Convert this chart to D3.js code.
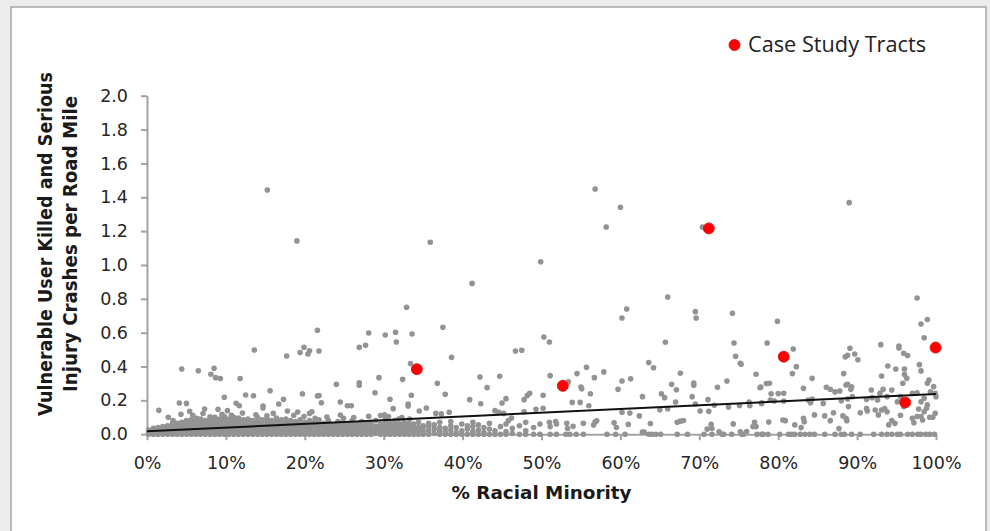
<!DOCTYPE html>
<html><head><meta charset="utf-8">
<script src="https://cdn.jsdelivr.net/npm/d3@7"></script>
<style>
html,body{margin:0;padding:0;background:#ececec;}
svg{display:block;}
</style>
</head><body>
<svg id="chart" width="990" height="531"></svg>
<script>
// Axis ticks
const xTicks = [0, 0.1, 0.2, 0.3, 0.4, 0.5, 0.6, 0.7, 0.8, 0.9, 1.0];
const yTicks = [0, 0.2, 0.4, 0.6, 0.8, 1.0, 1.2, 1.4, 1.6, 1.8, 2.0];

// Highlighted case study tracts: [share minority, crashes per road mile]
const caseStudyTracts = [[0.342, 0.384], [0.527, 0.286], [0.712, 1.216], [0.807, 0.458], [0.961, 0.188], [0.9995, 0.512]];

// Linear trend (end points at 0% and 100%)
const trendLine = [[0, 0.017], [1, 0.237]];

// Tracts with high rates
const tractsHigh = [
  [0.1525,1.443],[0.190,1.142],[0.359,1.134],[0.499,1.019],[0.412,0.891],[0.329,0.750],
  [0.216,0.614],[0.281,0.598],[0.302,0.586],[0.315,0.602],[0.336,0.592],[0.375,0.632],
  [0.568,1.449],[0.600,1.341],[0.582,1.224],[0.704,1.224],[0.890,1.368],
  [0.660,0.811],[0.608,0.740],[0.602,0.687],[0.695,0.724],[0.696,0.687],[0.742,0.714],[0.799,0.667],
  [0.976,0.805],[0.989,0.677],[0.981,0.651],[0.985,0.570],
  [0.503,0.574],[0.510,0.545],[0.269,0.513],[0.277,0.525],[0.316,0.545],
  [0.657,0.543],[0.744,0.539],[0.786,0.539]
];

// Tracts with moderate rates, 0% to 55% minority
const tractsMidLeft = [
  [0.136,0.497],[0.177,0.462],[0.194,0.482],[0.199,0.514],[0.204,0.474],[0.206,0.493],[0.218,0.492],
  [0.044,0.385],[0.065,0.375],[0.081,0.354],[0.085,0.389],[0.087,0.334],[0.093,0.329],[0.118,0.329],[0.240,0.295],
  [0.098,0.218],[0.125,0.232],[0.135,0.227],[0.156,0.257],[0.197,0.238],[0.216,0.226],[0.218,0.228],[0.221,0.186],[0.245,0.190],[0.254,0.168],
  [0.041,0.184],[0.050,0.182],[0.015,0.141],[0.027,0.100],[0.043,0.118],[0.054,0.135],[0.073,0.149],[0.090,0.147],[0.102,0.139],
  [0.113,0.183],[0.117,0.168],[0.147,0.167],[0.147,0.155],[0.160,0.123],[0.167,0.178],[0.173,0.206],[0.178,0.137],[0.191,0.131],
  [0.206,0.123],[0.209,0.133],[0.213,0.094],[0.245,0.113],[0.249,0.094],[0.033,0.080],[0.063,0.094],[0.080,0.103],
  [0.058,0.112],[0.071,0.122],[0.095,0.118],[0.107,0.112],[0.121,0.125],[0.138,0.115],[0.152,0.108],[0.186,0.112],
  [0.199,0.104],[0.228,0.102],[0.262,0.098],[0.281,0.106],
  [0.334,0.417],[0.467,0.492],[0.475,0.496],[0.386,0.454],
  [0.269,0.304],[0.269,0.289],[0.294,0.334],[0.324,0.324],[0.368,0.301],[0.422,0.338],[0.447,0.342],[0.431,0.275],
  [0.378,0.236],[0.335,0.230],[0.289,0.245],[0.308,0.206],[0.409,0.204],[0.423,0.180],[0.450,0.184],[0.455,0.210],
  [0.478,0.204],[0.482,0.228],[0.485,0.242],[0.502,0.230],
  [0.259,0.168],[0.331,0.178],[0.331,0.167],[0.312,0.151],[0.345,0.137],[0.354,0.155],[0.366,0.123],[0.373,0.120],
  [0.383,0.130],[0.441,0.139],[0.446,0.130],[0.452,0.123],[0.478,0.133],[0.493,0.147],[0.502,0.153],
  [0.458,0.080],[0.462,0.095],[0.510,0.070],[0.518,0.075],
  [0.296,0.110],[0.301,0.115],[0.306,0.105],[0.319,0.090],[0.323,0.098],[0.333,0.090]
];

// Tracts with moderate rates, 50% to 100% minority
const tractsMidRight = [
  [0.511,0.346],[0.746,0.460],[0.752,0.419],[0.753,0.413],[0.636,0.423],[0.642,0.393],[0.557,0.395],[0.545,0.358],
  [0.579,0.368],[0.567,0.334],[0.534,0.310],[0.602,0.314],[0.613,0.328],[0.676,0.360],[0.693,0.302],[0.693,0.289],
  [0.665,0.295],[0.671,0.263],[0.735,0.314],[0.772,0.354],[0.785,0.300],[0.550,0.279],[0.551,0.268],[0.562,0.239],
  [0.597,0.265],[0.628,0.222],[0.652,0.239],[0.656,0.216],[0.670,0.190],[0.691,0.222],[0.695,0.178],[0.711,0.204],
  [0.723,0.277],[0.719,0.171],[0.763,0.190],[0.779,0.180],[0.778,0.279],[0.539,0.188],[0.549,0.188],[0.560,0.168],
  [0.602,0.129],[0.612,0.125],[0.624,0.108],[0.650,0.145],[0.660,0.151],[0.701,0.137],[0.712,0.135],[0.737,0.160],
  [0.751,0.170],[0.764,0.168],
  [0.819,0.503],[0.823,0.399],[0.818,0.358],[0.891,0.508],[0.888,0.466],[0.885,0.457],[0.897,0.474],[0.901,0.440],
  [0.930,0.529],[0.953,0.521],[0.953,0.510],[0.959,0.478],[0.964,0.465],[0.939,0.403],[0.949,0.385],[0.960,0.385],
  [0.960,0.352],[0.979,0.411],[0.981,0.374],[0.931,0.344],[0.883,0.358],[0.843,0.330],[0.789,0.301],[0.777,0.275],
  [0.832,0.271],[0.861,0.277],[0.866,0.266],[0.872,0.250],[0.878,0.255],[0.886,0.290],[0.888,0.295],[0.893,0.280],
  [0.791,0.239],[0.800,0.240],[0.807,0.242],
  [0.779,0.186],[0.790,0.202],[0.795,0.196],[0.807,0.196],[0.838,0.202],[0.843,0.208],[0.841,0.186],[0.857,0.182],
  [0.880,0.198],[0.888,0.208],[0.894,0.222],[0.892,0.265],[0.912,0.206],[0.918,0.261],[0.919,0.216],[0.926,0.202],
  [0.929,0.241],[0.933,0.265],[0.938,0.222],[0.944,0.261],[0.951,0.192],[0.955,0.222],[0.958,0.301],[0.963,0.330],
  [0.970,0.241],[0.976,0.245],[0.981,0.192],[0.985,0.212],[0.989,0.301],[0.991,0.320],[0.993,0.251],[0.997,0.281],
  [0.999,0.241],[1.000,0.222]
];

// Tracts with low rates, 50% to 100% minority
const tractsLowRight = [
  [0.511,0.045],[0.519,0.060],[0.532,0.065],[0.533,0.034],[0.540,0.047],[0.553,0.065],[0.566,0.054],[0.568,0.073],
  [0.570,0.079],[0.592,0.067],[0.595,0.040],[0.610,0.058],[0.628,0.012],[0.630,0.012],[0.638,0.063],[0.672,0.071],
  [0.676,0.077],[0.680,0.081],[0.710,0.030],[0.715,0.058],[0.716,0.034],[0.725,0.014],[0.743,0.061],[0.752,0.014],
  [0.760,0.016],[0.768,0.045],[0.770,0.071],[0.772,0.045],
  [0.788,0.072],[0.806,0.084],[0.809,0.080],[0.821,0.055],[0.829,0.039],[0.832,0.094],[0.833,0.074],[0.846,0.114],
  [0.859,0.108],[0.870,0.127],[0.866,0.080],[0.877,0.033],[0.882,0.108],[0.886,0.094],[0.887,0.080],[0.889,0.163],
  [0.904,0.127],[0.912,0.151],[0.913,0.137],[0.923,0.143],[0.927,0.114],[0.931,0.143],[0.935,0.151],[0.938,0.133],
  [0.940,0.055],[0.944,0.080],[0.948,0.064],[0.955,0.112],[0.959,0.163],[0.970,0.094],[0.972,0.068],[0.976,0.104],
  [0.978,0.149],[0.981,0.104],[0.983,0.084],[0.985,0.133],[0.988,0.153],[0.989,0.173],[0.992,0.100],[0.996,0.100],
  [0.999,0.124]
];

// Tracts with no recorded crashes, 50% to 100% minority
const zeroRateTracts = [
  0.511,0.519,0.531,0.536,0.544,0.553,0.583,0.594,0.606,0.636,0.640,0.645,0.651,0.672,0.685,0.706,0.716,0.729,
  0.731,0.741,0.754,0.756,0.773,0.781,0.779,0.787,0.802,0.813,0.817,0.821,0.828,0.834,0.840,0.846,0.859,0.872,
  0.880,0.884,0.893,0.904,0.921,0.931,0.938,0.944,0.951,0.955,0.964,0.970,0.977,0.981,0.987,0.992,0.998
];

// Dense band of low-rate tracts, 0% to 50% minority: [share minority, [rates]]
const denseBand = [
  [0.002,[0,0.012,0.025]],[0.008,[0,0.008,0.020,0.035]],[0.014,[0,0.015,0.030,0.040]],[0.020,[0,0.010,0.025,0.045]],
  [0.026,[0,0.012,0.030,0.050]],[0.032,[0,0.020,0.040,0.060]],[0.038,[0,0.010,0.030,0.050,0.065]],
  [0.044,[0,0.015,0.035,0.055,0.070]],[0.050,[0,0.020,0.040,0.060,0.080]],[0.056,[0,0.010,0.030,0.050,0.070,0.085]],
  [0.062,[0,0.020,0.040,0.060,0.075]],[0.068,[0,0.015,0.035,0.055,0.075,0.090]],[0.074,[0,0.020,0.040,0.060,0.080]],
  [0.080,[0,0.010,0.030,0.050,0.070,0.095]],[0.086,[0,0.020,0.040,0.060,0.080,0.100]],[0.092,[0,0.015,0.035,0.055,0.075,0.090]],
  [0.098,[0,0.020,0.045,0.065,0.085,0.105]],[0.104,[0,0.010,0.030,0.050,0.070,0.090]],[0.110,[0,0.020,0.040,0.060,0.080,0.100]],
  [0.116,[0,0.015,0.035,0.055,0.075,0.095]],[0.122,[0,0.020,0.040,0.060,0.085]],[0.128,[0,0.010,0.030,0.050,0.070,0.090]],
  [0.134,[0,0.020,0.040,0.065,0.080]],[0.140,[0,0.015,0.035,0.055,0.075,0.100]],[0.146,[0,0.020,0.045,0.060,0.085]],
  [0.152,[0,0.010,0.030,0.050,0.070,0.090]],[0.158,[0,0.020,0.040,0.060,0.080]],[0.164,[0,0.015,0.035,0.055,0.075,0.095]],
  [0.170,[0,0.020,0.040,0.065,0.085]],[0.176,[0,0.010,0.030,0.050,0.070,0.090]],[0.182,[0,0.020,0.040,0.060,0.080]],
  [0.188,[0,0.015,0.035,0.055,0.075]],[0.194,[0,0.020,0.045,0.065,0.085]],[0.200,[0,0.010,0.030,0.050,0.070]],
  [0.206,[0,0.020,0.040,0.060,0.080]],[0.212,[0,0.015,0.035,0.055,0.070]],[0.218,[0,0.020,0.040,0.060,0.085]],
  [0.224,[0,0.010,0.030,0.050,0.065]],[0.230,[0,0.020,0.040,0.060,0.080]],[0.236,[0,0.015,0.035,0.055]],
  [0.242,[0,0.020,0.040,0.065,0.075]],[0.248,[0,0.010,0.030,0.050,0.070]],[0.254,[0,0.020,0.045,0.060]],
  [0.260,[0,0.015,0.035,0.055,0.080]],[0.266,[0,0.020,0.040,0.060]],[0.272,[0,0.010,0.030,0.050,0.075]],
  [0.278,[0,0.020,0.040,0.065]],[0.284,[0,0.015,0.035,0.055,0.070]],[0.290,[0.005,0.025,0.045,0.080]],
  [0.296,[0,0.020,0.040,0.060]],[0.302,[0,0.010,0.030,0.050,0.070,0.090]],[0.308,[0,0.020,0.045,0.065]],
  [0.314,[0,0.015,0.035,0.055,0.080]],[0.320,[0,0.020,0.040,0.060]],[0.326,[0,0.010,0.030,0.050,0.070]],
  [0.332,[0,0.025,0.045,0.065]],[0.338,[0,0.015,0.035,0.060]],[0.344,[0,0.020,0.040,0.070]],
  [0.350,[0,0.010,0.030,0.050]],[0.357,[0,0.020,0.045,0.065]],[0.364,[0.005,0.030,0.055]],
  [0.371,[0,0.020,0.040,0.070]],[0.378,[0,0.015,0.035]],[0.385,[0,0.025,0.050,0.075]],[0.392,[0,0.010,0.040]],
  [0.399,[0,0.020,0.060]],[0.406,[0,0.030,0.050]],[0.413,[0,0.015,0.045,0.070]],[0.420,[0,0.025,0.055]],
  [0.427,[0,0.010,0.040]],[0.434,[0,0.030,0.065]],[0.441,[0,0.020]],[0.448,[0,0.045]],[0.455,[0,0.015,0.060]],
  [0.463,[0.005,0.035]],[0.472,[0,0.050]],[0.480,[0,0.020,0.070]],[0.490,[0,0.040]],[0.498,[0,0.060]]
];

const grayTracts = [
  ...denseBand.flatMap(([m, rates]) => rates.map(r => [m, r])),
  ...zeroRateTracts.map(m => [m, 0]),
  ...tractsLowRight, ...tractsMidLeft, ...tractsMidRight, ...tractsHigh
];

const svg = d3.select('#chart');

// Chart frame
svg.append('rect').attr('x', 11).attr('y', 7).attr('width', 975).attr('height', 540)
  .attr('fill', '#ffffff').attr('stroke', '#a6a6a6').attr('stroke-width', 1.5);

const x = d3.scaleLinear().domain([0, 1]).range([147, 936]);
const y = d3.scaleLinear().domain([0, 2]).range([434.2, 95.7]);

const axisColor = '#a3a3a3';
const tickFont = '"DejaVu Sans", Verdana, sans-serif';

// Y axis
const gy = svg.append('g').attr('transform', `translate(${x(0)},0)`)
  .call(d3.axisLeft(y).tickValues(yTicks).tickFormat(d3.format('.1f')).tickSize(6).tickSizeOuter(0).tickPadding(13));
gy.select('.domain').attr('stroke', axisColor).attr('stroke-width', 2);
gy.selectAll('.tick line').attr('stroke', axisColor).attr('stroke-width', 2);
gy.selectAll('.tick text').attr('fill', '#262626').style('font-family', tickFont).style('font-size', '17.5px');

// X axis
const gx = svg.append('g').attr('transform', `translate(0,${y(0)})`)
  .call(d3.axisBottom(x).tickValues(xTicks).tickFormat(d3.format('.0%')).tickSize(6).tickSizeOuter(0).tickPadding(16.5));
gx.select('.domain').attr('stroke', axisColor).attr('stroke-width', 2);
gx.selectAll('.tick line').attr('stroke', axisColor).attr('stroke-width', 2);
gx.selectAll('.tick text').attr('fill', '#262626').style('font-family', tickFont).style('font-size', '17.5px');

// Points
svg.append('g').selectAll('circle').data(grayTracts).join('circle')
  .attr('cx', d => x(d[0])).attr('cy', d => y(d[1])).attr('r', 2.8).attr('fill', '#939393');

// Trend line
svg.append('path').datum(trendLine)
  .attr('d', d3.line().x(d => x(d[0])).y(d => y(d[1])))
  .attr('stroke', '#111').attr('stroke-width', 2).attr('fill', 'none');

svg.append('g').selectAll('circle').data(caseStudyTracts).join('circle')
  .attr('cx', d => x(d[0])).attr('cy', d => y(d[1])).attr('r', 5.5)
  .attr('fill', '#ff0000').attr('stroke', '#d42020').attr('stroke-width', 1);

// Legend
svg.append('circle').attr('cx', 734.5).attr('cy', 45).attr('r', 5.5).attr('fill', '#ff0000').attr('stroke', '#d42020');
svg.append('text').attr('x', 748).attr('y', 52).text('Case Study Tracts')
  .attr('fill', '#222').style('font-family', '"Open Sans", sans-serif').style('font-size', '21.5px')
  .attr('textLength', 178).attr('lengthAdjust', 'spacingAndGlyphs');

// Axis titles
svg.append('text').attr('x', x(0.5)).attr('y', 499).attr('text-anchor', 'middle')
  .attr('fill', '#1a1a1a').style('font-family', '"DejaVu Sans", sans-serif')
  .style('font-weight', 'bold').style('font-size', '18px')
  .attr('textLength', 180).attr('lengthAdjust', 'spacingAndGlyphs').text('% Racial Minority');

const yTitle = ['Vulnerable User Killed and Serious', 'Injury Crashes per Road Mile'];
const yTitleX = [52, 77];
const yTitleLen = [344, 296];
yTitle.forEach((t, i) => {
  svg.append('text').attr('transform', `translate(${yTitleX[i]},244) rotate(-90)`)
    .attr('text-anchor', 'middle').attr('fill', '#1a1a1a')
    .style('font-family', '"DejaVu Sans", Verdana, sans-serif').style('font-weight', 'bold').style('font-size', '19px')
    .attr('textLength', yTitleLen[i]).attr('lengthAdjust', 'spacingAndGlyphs')
    .text(t);
});
</script>
</body></html>
